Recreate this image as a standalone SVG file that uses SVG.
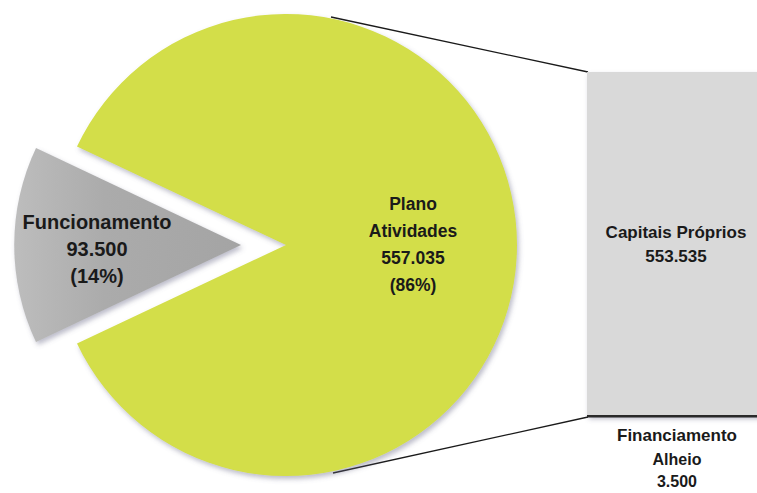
<svg xmlns="http://www.w3.org/2000/svg" width="757" height="493" viewBox="0 0 757 493">
<defs>
<filter id="sh" x="-10%" y="-10%" width="130%" height="130%">
<feDropShadow dx="2" dy="3" stdDeviation="2.5" flood-color="#6a6a8a" flood-opacity="0.45"/>
</filter>
<linearGradient id="gg" x1="0" y1="0" x2="1" y2="0">
<stop offset="0" stop-color="#bdbdbd"/>
<stop offset="0.4" stop-color="#ababab"/>
<stop offset="1" stop-color="#a4a4a4"/>
</linearGradient>
</defs>
<style>
text{font-family:"Liberation Sans",Arial,sans-serif;font-weight:bold;fill:#1a1a1a;text-anchor:middle}
.big{font-size:20px}
.mid{font-size:17.5px}
.sm{font-size:17px}
.fa{font-size:16px}
.conn{stroke:#1a1a1a;stroke-width:1.3;fill:none}
</style>
<rect width="757" height="493" fill="#ffffff"/>
<g id="connectors">
<line class="conn" x1="331" y1="17" x2="588" y2="72"/>
<line class="conn" x1="333" y1="473" x2="588" y2="417"/>
</g>
<g id="plano-atividades">
<path d="M 286 245 L 77 343.4 A 231 231 0 1 0 77 146.6 Z" fill="#d3de48" filter="url(#sh)"/>
<text class="mid" x="413" y="210">Plano</text>
<text class="mid" x="413" y="237">Atividades</text>
<text class="mid" x="413" y="264">557.035</text>
<text class="mid" x="413" y="291">(86%)</text>
</g>
<g id="funcionamento">
<path d="M 241 245 L 36 148 A 227 227 0 0 0 36 342 Z" fill="url(#gg)" filter="url(#sh)"/>
<text class="big" x="97" y="229">Funcionamento</text>
<text class="big" x="97" y="256">93.500</text>
<text class="big" x="97" y="283">(14%)</text>
</g>
<g id="capitais-proprios">
<rect x="587" y="72" width="180" height="344" fill="#d9d9d9" filter="url(#sh)"/>
<text class="sm" x="676" y="238">Capitais Próprios</text>
<text class="sm" x="676" y="262">553.535</text>
</g>
<g id="financiamento-alheio">
<rect x="587" y="415" width="180" height="2.5" fill="#2a2a2a"/>
<text class="sm" x="677" y="441">Financiamento</text>
<text class="fa" x="677" y="465">Alheio</text>
<text class="fa" x="677" y="487">3.500</text>
</g>
</svg>
